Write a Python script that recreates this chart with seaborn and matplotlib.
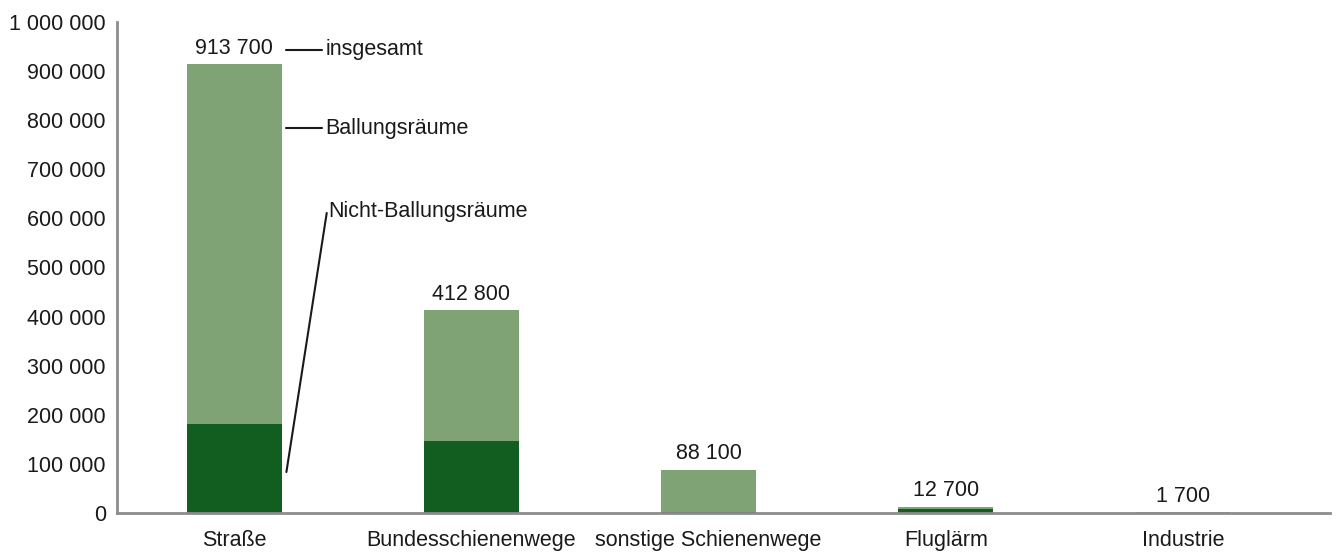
import matplotlib
matplotlib.use("Agg")
import matplotlib.pyplot as plt
import seaborn as sns
import pandas as pd

# data
categories = ["Straße", "Bundesschienenwege", "sonstige Schienenwege", "Fluglärm", "Industrie"]
totals = [913700, 412800, 88100, 12700, 1700]
nicht_ballung = [181000, 147000, 2500, 8000, 0]
total_labels = ["913 700", "412 800", "88 100", "12 700", "1 700"]
ytick_values = [0, 100000, 200000, 300000, 400000, 500000, 600000, 700000, 800000, 900000, 1000000]

LIGHT = "#7fa374"
DARK = "#115e20"
AXIS = "#8c8c8c"
TXT = "#1a1a1a"
FS = 15.5

sns.set_style("white")
plt.rcParams["font.family"] = ["Liberation Sans", "DejaVu Sans"]

df = pd.DataFrame({"cat": categories, "total": totals, "nicht": nicht_ballung})

fig = plt.figure(figsize=(13.36, 5.53), dpi=100)
ax = fig.add_axes([0.0876, 0.0723, 0.908, 0.888])

sns.barplot(data=df, x="cat", y="total", color=LIGHT, width=0.4, saturation=1,
            linewidth=0, ax=ax)
sns.barplot(data=df, x="cat", y="nicht", color=DARK, width=0.4, saturation=1,
            linewidth=0, ax=ax)

# value labels above bars
for i, (v, lab) in enumerate(zip(totals, total_labels)):
    ax.text(i, v + 11000, lab, ha="center", va="bottom", fontsize=FS, color=TXT)

# legend-like annotations next to the first bar
x0 = 0.2 + 0.02
yi = 943000
ax.plot([x0, x0 + 0.15], [yi, yi], color=TXT, lw=1.5)
ax.text(x0 + 0.165, yi, "insgesamt", va="center", fontsize=FS, color=TXT)
yb = 784000
ax.plot([x0, x0 + 0.15], [yb, yb], color=TXT, lw=1.5)
ax.text(x0 + 0.165, yb, "Ballungsräume", va="center", fontsize=FS, color=TXT)
ax.plot([x0, x0 + 0.17], [83500, 611000], color=TXT, lw=1.5)
ax.text(x0 + 0.175, 614000, "Nicht-Ballungsräume", va="center", fontsize=FS, color=TXT)

ax.set_xlim(-0.494, 4.62)
ax.set_ylim(0, 1000000)
ax.set_yticks(ytick_values)
ax.set_yticklabels([f"{v:,}".replace(",", " ") for v in ytick_values], fontsize=FS, color=TXT)
ax.tick_params(axis="y", length=5, width=1, color=AXIS, pad=3)
ax.tick_params(axis="x", length=0, labelsize=FS, labelcolor=TXT, pad=12)
ax.set_xlabel("")
ax.set_ylabel("")

for s in ["top", "right"]:
    ax.spines[s].set_visible(False)
for s in ["left", "bottom"]:
    ax.spines[s].set_color(AXIS)
    ax.spines[s].set_linewidth(2)

fig.savefig("out.png", dpi=100)
